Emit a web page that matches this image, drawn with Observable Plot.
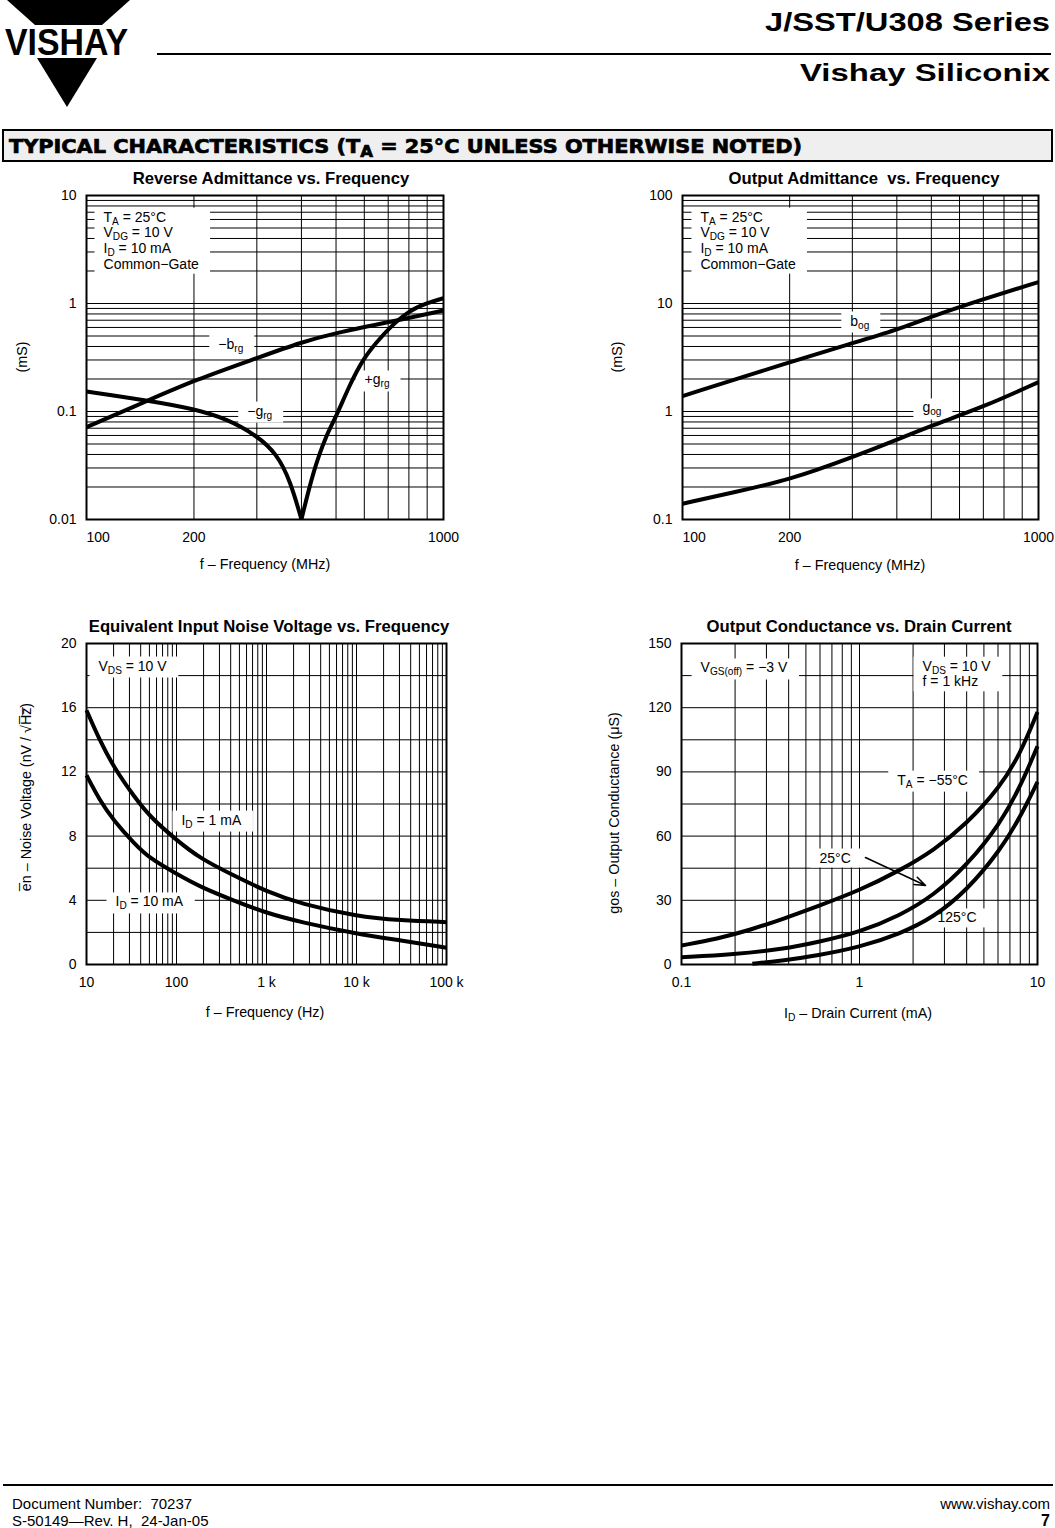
<!DOCTYPE html>
<html><head><meta charset="utf-8">
<script src="https://cdn.jsdelivr.net/npm/d3@7"></script>
<script src="https://cdn.jsdelivr.net/npm/@observablehq/plot@0.6"></script>
<style>
body{margin:0;background:#fff;}
#page{position:relative;width:1055px;height:1528px;overflow:hidden;font-family:'Liberation Sans',Arial,Helvetica,sans-serif;color:#000;background:#fff;}
.chart{position:absolute;}
.ctitle{position:absolute;font-weight:bold;font-size:16.7px;transform:translate(-50%,-50%);white-space:nowrap;}
.xlab{position:absolute;font-size:14.3px;transform:translate(-50%,-50%);white-space:nowrap;}
.ylab{position:absolute;font-size:14.3px;transform:translate(-50%,-50%) rotate(-90deg);white-space:nowrap;}
sub{font-size:72%;vertical-align:-0.3em;line-height:0;}
.foot{position:absolute;font-family:'Liberation Sans Narrow','Liberation Sans',Arial,sans-serif;font-size:15px;line-height:17px;white-space:nowrap;}
</style></head>
<body><div id="page">
<svg width="1055" height="170" style="position:absolute;left:0;top:0">
  <polygon points="7,0 130,0 102,25 35,25" fill="#000"/>
  <text x="5" y="55" font-family="'Liberation Sans',Arial,sans-serif" font-weight="bold" font-size="37" textLength="123" lengthAdjust="spacingAndGlyphs">VISHAY</text>
  <polygon points="37,58 97,58 67,107" fill="#000"/>
  <line x1="157" x2="1051" y1="54" y2="54" stroke="#000" stroke-width="2"/>
  <text x="1050" y="31" text-anchor="end" font-family="'Liberation Sans',Arial,sans-serif" font-weight="bold" font-size="26" textLength="285" lengthAdjust="spacingAndGlyphs">J/SST/U308 Series</text>
  <text x="1050" y="81" text-anchor="end" font-family="'Liberation Sans',Arial,sans-serif" font-weight="bold" font-size="24" textLength="250" lengthAdjust="spacingAndGlyphs">Vishay Siliconix</text>
  <rect x="3" y="130" width="1049" height="31" fill="#efefef" stroke="#000" stroke-width="2"/>
  <text x="9" y="153" font-family="'DejaVu Sans',sans-serif" font-weight="bold" font-size="19" stroke="#000" stroke-width="0.7" textLength="793" lengthAdjust="spacingAndGlyphs">TYPICAL CHARACTERISTICS (T<tspan dy="4" font-size="15">A</tspan><tspan dy="-4"> = 25°C UNLESS OTHERWISE NOTED)</tspan></text>
</svg>

<div class="chart" id="c1" style="left:0;top:170px"></div>
<div class="chart" id="c2" style="left:530px;top:170px"></div>
<div class="chart" id="c3" style="left:0;top:620px"></div>
<div class="chart" id="c4" style="left:530px;top:620px"></div>

<div class="ctitle" style="left:271px;top:179px">Reverse Admittance vs. Frequency</div>
<div class="ctitle" style="left:864px;top:179px">Output Admittance&nbsp; vs. Frequency</div>
<div class="ctitle" style="left:269px;top:627px">Equivalent Input Noise Voltage vs. Frequency</div>
<div class="ctitle" style="left:859px;top:627px">Output Conductance vs. Drain Current</div>

<div class="ylab" style="left:22px;top:357px">(mS)</div>
<div class="ylab" style="left:617px;top:357px">(mS)</div>
<div class="ylab" style="left:26px;top:797px">e&#x305;n – Noise Voltage (nV / √H&#x305;z&#x305;)</div>
<div class="ylab" style="left:614px;top:813px">gos – Output Conductance (μS)</div>

<div class="xlab" style="left:265px;top:564px">f – Frequency (MHz)</div>
<div class="xlab" style="left:860px;top:565px">f – Frequency (MHz)</div>
<div class="xlab" style="left:265px;top:1012px">f – Frequency (Hz)</div>
<div class="xlab" style="left:858px;top:1013px">I<sub>D</sub> – Drain Current (mA)</div>

<div style="position:absolute;left:3px;top:1484px;width:1050px;height:2px;background:#000"></div>
<div class="foot" style="left:12px;top:1495px">Document Number:&nbsp; 70237<br>S-50149—Rev. H,&nbsp; 24-Jan-05</div>
<div class="foot" style="right:5px;top:1495px;text-align:right">www.vishay.com<br><b style="font-family:'Liberation Sans',Arial,sans-serif;font-size:16px">7</b></div>
</div>

<script>
// ---------- Chart 1: Reverse Admittance vs. Frequency ----------
const revXTicks = [100, 200, 500, 1000];
const revXLabels = ["100", "200", "500", "1000"];
const revYTicks = [0.01, 0.1, 1, 10];
const revYLabels = ["0.01", "0.1", "1", "10"];
const revFreqB = [100, 150, 200, 300, 400, 500, 700, 1000];
const revBrg   = [0.0716, 0.128, 0.194, 0.312, 0.439, 0.535, 0.671, 0.861];
const revFreqGn = [100, 147, 200, 247, 300, 341, 372, 400];
const revGrgNeg = [0.153, 0.127, 0.106, 0.0855, 0.060, 0.0406, 0.023, 0.0100];
const revFreqGp = [400, 432, 471, 500, 547, 600, 650, 700, 800, 900, 1000];
const revGrgPos = [0.0100, 0.0284, 0.062, 0.0887, 0.180, 0.318, 0.438, 0.582, 0.86, 1.01, 1.12];

// ---------- Chart 2: Output Admittance vs. Frequency ----------
const outXTicks = [100, 200, 500, 1000];
const outXLabels = ["100", "200", "500", "1000"];
const outYTicks = [0.1, 1, 10, 100];
const outYLabels = ["0.1", "1", "10", "100"];
const outFreqB = [100, 200, 300, 400, 500, 700, 1000];
const outBog   = [1.39, 2.86, 4.29, 5.70, 7.58, 11.0, 15.8];
const outFreqG = [100, 140, 200, 300, 400, 500, 700, 1000];
const outGog   = [0.140, 0.179, 0.233, 0.377, 0.547, 0.741, 1.10, 1.87];

// ---------- Chart 3: Equivalent Input Noise Voltage ----------
const noiseXTicks = [10, 100, 1000, 10000, 100000];
const noiseXLabels = ["10", "100", "1 k", "10 k", "100 k"];
const noiseYTicks = [0, 4, 8, 12, 16, 20];
const noiseFreq = [10, 14, 20, 34, 51, 100, 185, 430, 1000, 2400, 10000, 31000, 100000];
const noise1mA  = [15.84, 13.97, 12.31, 10.44, 9.19, 7.75, 6.59, 5.55, 4.55, 3.78, 3.0, 2.74, 2.64];
const noise10mA = [11.79, 10.23, 8.98, 7.53, 6.59, 5.65, 4.82, 3.99, 3.2, 2.64, 1.91, 1.50, 1.04];

// ---------- Chart 4: Output Conductance vs. Drain Current ----------
const gosXTicks = [0.1, 1, 10];
const gosXLabels = ["0.1", "1", "10"];
const gosYTicks = [0, 30, 60, 90, 120, 150];
const gosId55  = [0.1, 0.159, 0.244, 0.375, 0.577, 1, 1.69, 2.61, 4.01, 6.17, 8.0, 10];
const gos55    = [8.9, 12.0, 16.2, 21.4, 27.1, 34.6, 44.0, 53.3, 65.8, 83.0, 98.5, 118.0];
const gosId25  = [0.1, 0.197, 0.375, 0.577, 1, 1.69, 2.61, 4.01, 6.17, 8.0, 10];
const gos25    = [3.4, 4.7, 7.3, 10.4, 15.1, 22.9, 32.3, 46.3, 65.8, 83.0, 102.0];
const gosId125 = [0.25, 0.375, 0.577, 1, 1.69, 2.61, 4.01, 6.17, 8.0, 10];
const gos125   = [0.3, 1.9, 4.2, 8.1, 14.3, 22.1, 34.6, 53.3, 68.9, 85.3];

// ---------- annotations (data coordinates) ----------
const revBlock = [{x: 111.6, y: 7.26, t: "T_{A} = 25°C\nV_{DG} = 10 V\nI_{D} = 10 mA\nCommon−Gate"}];
const revLabels = [{x: 234, y: 0.426, t: "−b_{rg}"}, {x: 282, y: 0.102, t: "−g_{rg}"}, {x: 601, y: 0.198, t: "+g_{rg}"}];
const outBlock = [{x: 112.3, y: 72.7, t: "T_{A} = 25°C\nV_{DG} = 10 V\nI_{D} = 10 mA\nCommon−Gate"}];
const outLabels = [{x: 296, y: 6.96, t: "b_{og}"}, {x: 472, y: 1.09, t: "g_{og}"}];
const noiseLabels = [{x: 13.6, y: 18.63, t: "V_{DS} = 10 V"}, {x: 113.6, y: 9.03, t: "I_{D} = 1 mA"}, {x: 21, y: 3.93, t: "I_{D} = 10 mA"}];
const gosBlock = [{x: 2.26, y: 142.5, t: "V_{DS} = 10 V\nf = 1 kHz"}];
const gosLabels = [{x: 0.128, y: 138.8, t: "V_{GS(off)} = −3 V"}, {x: 1.63, y: 86.4, t: "T_{A} = −55°C"}, {x: 0.596, y: 50.0, t: "25°C"}, {x: 2.74, y: 22.0, t: "125°C"}];
const gosArrow = [{x1: 1.08, y1: 50, x2: 2.35, y2: 36.9}];

// ---------- helpers ----------
const zip = (name, xs, ys) => xs.map((x, i) => ({s: name, x, y: ys[i]}));
const logGrid = (lo, hi) => {
  const out = [];
  for (let e = Math.round(Math.log10(lo)); e < Math.round(Math.log10(hi)); e++)
    for (let m = 1; m < 10; m++) out.push(+(m * Math.pow(10, e)).toPrecision(6));
  out.push(hi);
  return out;
};
const fmt = (ticks, labels) => { const m = new Map(ticks.map((t, i) => [t, labels[i]])); return d => m.get(d); };
const FONT = "'Liberation Sans', Arial, Helvetica, sans-serif";
const style = {fontFamily: FONT, fontSize: "13px", color: "#000", background: "transparent", overflow: "visible"};
const gridMarks = (gx, gy) => [
  Plot.ruleX(gx, {stroke: "#000", strokeWidth: 1, strokeOpacity: 1}),
  Plot.ruleY(gy, {stroke: "#000", strokeWidth: 1, strokeOpacity: 1})
];
const TICKFS = 14;
// firstLeft: the first x tick label starts at the frame edge (as in the MHz charts)
const axes = (xt, xl, yt, yl, firstLeft) => {
  const f = fmt(xt, xl);
  const xs = firstLeft
    ? [Plot.axisX(xt.slice(0, 1), {tickSize: 0, tickPadding: 13, fontSize: TICKFS, label: null, tickFormat: f, textAnchor: "start"}),
       Plot.axisX(xt.slice(1), {tickSize: 0, tickPadding: 13, fontSize: TICKFS, label: null, tickFormat: f})]
    : [Plot.axisX(xt, {tickSize: 0, tickPadding: 13, fontSize: TICKFS, label: null, tickFormat: f})];
  return [...xs, Plot.axisY(yt, {tickSize: 0, tickPadding: 10, fontSize: TICKFS, label: null, tickFormat: fmt(yt, yl)})];
};
const txt = (data, anchor) => Plot.text(data, {x: "x", y: "y", text: "t", textAnchor: "start", lineAnchor: anchor, lineHeight: 1.12, fontSize: 14, fill: "#000"});
const curves = (data) => Plot.line(data, {x: "x", y: "y", z: "s", stroke: "#000", strokeWidth: 4, curve: "basis", strokeLinecap: "butt"});

// ---------- post-processing: subscripts and white label boxes ----------
const NS = "http://www.w3.org/2000/svg";
function subify(root) {
  const walker = document.createTreeWalker(root, NodeFilter.SHOW_TEXT);
  const nodes = [];
  while (walker.nextNode()) if (walker.currentNode.nodeValue.includes("_{")) nodes.push(walker.currentNode);
  for (const n of nodes) {
    const parts = n.nodeValue.split(/_\{([^}]*)\}/);
    const frag = document.createDocumentFragment();
    parts.forEach((p, i) => {
      if (!p.length) return;
      const t = document.createElementNS(NS, "tspan");
      if (i % 2 === 1) { t.setAttribute("baseline-shift", "-3"); t.setAttribute("font-size", "72%"); }
      t.textContent = p;
      frag.appendChild(t);
    });
    n.parentNode.replaceChild(frag, n);
  }
}
function boxes(svg) {
  svg.querySelectorAll('g[aria-label="text"] text').forEach(t => {
    const b = t.getBBox();
    const r = document.createElementNS(NS, "rect");
    r.setAttribute("x", b.x - 9); r.setAttribute("y", b.y - 1);
    r.setAttribute("width", b.width + 20); r.setAttribute("height", b.height + 3);
    r.setAttribute("fill", "#fff");
    if (t.getAttribute("transform")) r.setAttribute("transform", t.getAttribute("transform"));
    t.parentNode.insertBefore(r, t);
  });
}
function mount(id, svg) {
  document.getElementById(id).appendChild(svg);
  subify(svg);
  boxes(svg);
}

// ---------- Chart 1 ----------
const revData = [...zip("-brg", revFreqB, revBrg), ...zip("-grg", revFreqGn, revGrgNeg), ...zip("+grg", revFreqGp, revGrgPos)];
mount("c1", Plot.plot({
  width: 470, height: 390, marginLeft: 86, marginRight: 27, marginTop: 25, marginBottom: 41,
  x: {type: "log", domain: [100, 1000]},
  y: {type: "log", domain: [0.01, 10]},
  style,
  marks: [
    ...gridMarks(logGrid(100, 1000), logGrid(0.01, 10)),
    txt(revBlock, "top"), txt(revLabels, "middle"),
    curves(revData),
    Plot.frame({stroke: "#000", strokeWidth: 2}),
    ...axes(revXTicks, revXLabels, revYTicks, revYLabels, true)
  ]
}));

// ---------- Chart 2 ----------
const outData = [...zip("bog", outFreqB, outBog), ...zip("gog", outFreqG, outGog)];
mount("c2", Plot.plot({
  width: 525, height: 390, marginLeft: 152, marginRight: 17, marginTop: 25, marginBottom: 41,
  x: {type: "log", domain: [100, 1000]},
  y: {type: "log", domain: [0.1, 100]},
  style,
  marks: [
    ...gridMarks(logGrid(100, 1000), logGrid(0.1, 100)),
    txt(outBlock, "top"), txt(outLabels, "middle"),
    curves(outData),
    Plot.frame({stroke: "#000", strokeWidth: 2}),
    ...axes(outXTicks, outXLabels, outYTicks, outYLabels, true)
  ]
}));

// ---------- Chart 3 ----------
const noiseData = [...zip("1mA", noiseFreq, noise1mA), ...zip("10mA", noiseFreq, noise10mA)];
mount("c3", Plot.plot({
  width: 470, height: 380, marginLeft: 86, marginRight: 24, marginTop: 23, marginBottom: 36,
  x: {type: "log", domain: [10, 100000]},
  y: {type: "linear", domain: [0, 20]},
  style,
  marks: [
    ...gridMarks(logGrid(10, 100000), d3.range(0, 21, 2)),
    txt(noiseLabels, "middle"),
    curves(noiseData),
    Plot.frame({stroke: "#000", strokeWidth: 2}),
    ...axes(noiseXTicks, noiseXLabels, noiseYTicks, noiseYTicks.map(String), false)
  ]
}));

// ---------- Chart 4 ----------
const gosData = [...zip("-55", gosId55, gos55), ...zip("25", gosId25, gos25), ...zip("125", gosId125, gos125)];
mount("c4", Plot.plot({
  width: 525, height: 380, marginLeft: 151, marginRight: 18, marginTop: 23, marginBottom: 36,
  x: {type: "log", domain: [0.1, 10]},
  y: {type: "linear", domain: [0, 150]},
  style,
  marks: [
    ...gridMarks(logGrid(0.1, 10), d3.range(0, 151, 15)),
    txt(gosBlock, "top"), txt(gosLabels, "middle"),
    curves(gosData),
    Plot.arrow(gosArrow, {x1: "x1", y1: "y1", x2: "x2", y2: "y2", stroke: "#000", strokeWidth: 1.6, headLength: 11, headAngle: 40}),
    Plot.frame({stroke: "#000", strokeWidth: 2}),
    ...axes(gosXTicks, gosXLabels, gosYTicks, gosYTicks.map(String), false)
  ]
}));
</script>
</body></html>
